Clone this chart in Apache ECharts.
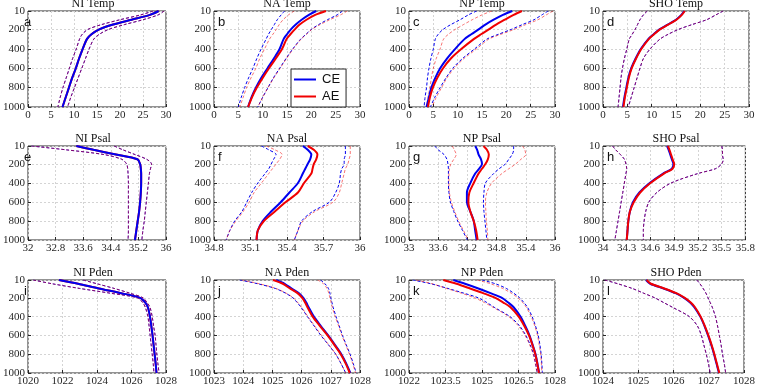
<!DOCTYPE html>
<html>
<head>
<meta charset="utf-8">
<script src="https://cdn.jsdelivr.net/npm/echarts@6/dist/echarts.min.js"></script>
<style>
  html, body { margin: 0; padding: 0; background: #fff; }
  #chart { width: 758px; height: 387px; }
</style>
</head>
<body>
<div id="chart"></div>
<script>
// depth levels (m) and tick labels
const depth = [10, 50, 100, 150, 200, 250, 300, 400, 500, 600, 700, 800, 900, 1000]
const depthTicks = [10, 200, 400, 600, 800, 1000]
const tempTicks = [0, 5, 10, 15, 20, 25, 30]
const niPsalTicks = [32, 32.8, 33.6, 34.4, 35.2, 36]
const naPsalTicks = [34.8, 35.1, 35.4, 35.7, 36]
const npPsalTicks = [33, 33.6, 34.2, 34.8, 35.4, 36]
const shoPsalTicks = [34, 34.3, 34.6, 34.9, 35.2, 35.5, 35.8]
const niPdenTicks = [1020, 1022, 1024, 1026, 1028]
const naPdenTicks = [1023, 1024, 1025, 1026, 1027, 1028]
const npPdenTicks = [1022, 1023.5, 1025, 1026.5, 1028]
const shoPdenTicks = [1024, 1025, 1026, 1027, 1028]

// NI Temp
const niTempCE = [28.4, 26.5, 22.5, 18.5, 15.5, 13.8, 12.8, 11.9, 11.1, 10.4, 9.6, 8.9, 8.2, 7.5]
const niTempCElo = [27.2, 24.5, 20.0, 16.0, 13.0, 11.8, 11.2, 10.5, 9.7, 9.0, 8.3, 7.6, 7.0, 6.5]
const niTempCEhi = [29.6, 28.3, 25.0, 21.0, 17.5, 15.5, 14.3, 13.3, 12.5, 11.7, 10.9, 10.1, 9.3, 8.6]
const niTempAE = [28.4, 26.5, 22.5, 18.5, 15.5, 13.8, 12.8, 11.9, 11.1, 10.4, 9.6, 8.9, 8.2, 7.5]
const niTempAElo = [27.2, 24.5, 20.0, 16.0, 13.0, 11.8, 11.2, 10.5, 9.7, 9.0, 8.3, 7.6, 7.0, 6.5]
const niTempAEhi = [29.6, 28.3, 25.0, 21.0, 17.5, 15.5, 14.3, 13.3, 12.5, 11.7, 10.9, 10.1, 9.3, 8.6]
// NA Temp
const naTempCE = [21.0, 19.5, 18.0, 16.8, 15.8, 15.0, 14.3, 13.5, 12.3, 11.0, 9.7, 8.6, 7.7, 7.0]
const naTempCElo = [14.5, 13.8, 13.0, 12.4, 11.8, 11.2, 10.7, 9.7, 8.8, 8.0, 7.1, 6.3, 5.6, 5.0]
const naTempCEhi = [26.4, 25.3, 23.3, 21.5, 20.0, 18.9, 17.8, 16.2, 14.8, 13.5, 12.2, 11.1, 10.0, 9.0]
const naTempAE = [23.0, 20.8, 19.0, 17.6, 16.6, 15.7, 14.9, 14.0, 12.7, 11.3, 10.0, 8.8, 7.8, 7.0]
const naTempAElo = [16.5, 15.3, 14.2, 13.4, 12.8, 12.1, 11.4, 10.4, 9.4, 8.6, 7.6, 6.7, 6.0, 5.3]
const naTempAEhi = [27.4, 26.0, 23.8, 21.8, 20.1, 19.0, 17.9, 16.3, 14.9, 13.6, 12.3, 11.1, 10.0, 9.0]
// NP Temp
const npTempCE = [21.2, 19.3, 17.4, 15.7, 14.3, 12.8, 11.4, 9.5, 7.8, 6.4, 5.4, 4.6, 4.1, 3.6]
const npTempCElo = [13.9, 12.2, 10.5, 8.6, 7.0, 6.0, 5.4, 5.0, 4.5, 4.1, 3.8, 3.6, 3.3, 3.1]
const npTempCEhi = [28.6, 27.3, 25.7, 23.3, 21.0, 18.4, 16.0, 13.5, 11.0, 9.0, 7.6, 6.4, 5.3, 4.4]
const npTempAE = [23.2, 21.5, 19.7, 17.9, 16.4, 14.8, 13.3, 10.8, 8.6, 7.0, 5.8, 4.9, 4.3, 3.9]
const npTempAElo = [17.0, 15.0, 13.0, 11.2, 9.5, 8.1, 7.1, 6.4, 5.6, 5.0, 4.6, 4.3, 3.9, 3.6]
const npTempAEhi = [29.6, 28.2, 26.5, 24.0, 21.6, 18.9, 16.4, 13.9, 11.3, 9.3, 7.8, 6.7, 5.6, 4.7]
// SHO Temp
const shoTempCE = [16.7, 16.1, 15.0, 13.3, 11.6, 10.4, 9.3, 7.8, 6.7, 5.8, 5.2, 4.8, 4.4, 4.1]
const shoTempCElo = [9.1, 8.3, 7.6, 7.1, 6.6, 6.0, 5.4, 4.9, 4.4, 4.0, 3.7, 3.5, 3.3, 3.1]
const shoTempCEhi = [24.7, 23.2, 21.3, 18.3, 15.5, 13.4, 11.7, 9.7, 8.3, 7.6, 7.0, 6.4, 5.8, 5.2]
const shoTempAE = [16.8, 16.2, 15.1, 13.4, 11.7, 10.5, 9.4, 7.9, 6.8, 5.9, 5.3, 4.9, 4.5, 4.2]
const shoTempAElo = [9.1, 8.3, 7.6, 7.1, 6.6, 6.0, 5.4, 4.9, 4.4, 4.0, 3.7, 3.5, 3.3, 3.1]
const shoTempAEhi = [24.7, 23.2, 21.3, 18.3, 15.5, 13.4, 11.7, 9.7, 8.3, 7.6, 7.0, 6.4, 5.8, 5.2]

// NI Psal
const niPsalCE = [33.4, 33.9, 34.55, 35.17, 35.25, 35.27, 35.28, 35.28, 35.27, 35.25, 35.22, 35.18, 35.14, 35.1]
const niPsalCElo = [32.1, 33.1, 34.2, 34.72, 34.86, 34.89, 34.9, 34.91, 34.91, 34.91, 34.91, 34.91, 34.91, 34.9]
const niPsalCEhi = [34.5, 34.75, 35.1, 35.44, 35.58, 35.55, 35.52, 35.49, 35.46, 35.43, 35.4, 35.37, 35.33, 35.3]
const niPsalAE = [33.4, 33.9, 34.55, 35.17, 35.25, 35.27, 35.28, 35.28, 35.27, 35.25, 35.22, 35.18, 35.14, 35.1]
const niPsalAElo = [32.1, 33.1, 34.2, 34.72, 34.86, 34.89, 34.9, 34.91, 34.91, 34.91, 34.91, 34.91, 34.91, 34.9]
const niPsalAEhi = [34.5, 34.75, 35.1, 35.44, 35.58, 35.55, 35.52, 35.49, 35.46, 35.43, 35.4, 35.37, 35.33, 35.3]
// NA Psal
const naPsalCE = [35.53, 35.57, 35.6, 35.59, 35.57, 35.55, 35.53, 35.49, 35.42, 35.35, 35.27, 35.2, 35.16, 35.15]
const naPsalCElo = [35.19, 35.25, 35.31, 35.29, 35.27, 35.25, 35.22, 35.16, 35.11, 35.07, 35.03, 34.97, 34.93, 34.9]
const naPsalCEhi = [35.88, 35.88, 35.88, 35.87, 35.87, 35.85, 35.84, 35.83, 35.8, 35.75, 35.61, 35.52, 35.49, 35.46]
const naPsalAE = [35.57, 35.62, 35.65, 35.64, 35.62, 35.61, 35.6, 35.54, 35.49, 35.39, 35.3, 35.21, 35.16, 35.15]
const naPsalAElo = [35.23, 35.3, 35.36, 35.34, 35.31, 35.28, 35.25, 35.19, 35.13, 35.09, 35.04, 34.98, 34.93, 34.9]
const naPsalAEhi = [35.92, 35.92, 35.92, 35.91, 35.9, 35.88, 35.87, 35.85, 35.83, 35.78, 35.63, 35.53, 35.49, 35.46]
// NP Psal
const npPsalCE = [34.36, 34.4, 34.43, 34.48, 34.5, 34.44, 34.36, 34.26, 34.19, 34.19, 34.26, 34.33, 34.36, 34.39]
const npPsalCElo = [33.53, 33.6, 33.72, 33.78, 33.8, 33.81, 33.81, 33.81, 33.82, 33.85, 33.92, 34.0, 34.1, 34.2]
const npPsalCEhi = [35.15, 35.15, 35.12, 35.05, 34.98, 34.85, 34.74, 34.57, 34.54, 34.53, 34.54, 34.56, 34.58, 34.6]
const npPsalAE = [34.53, 34.6, 34.64, 34.62, 34.57, 34.5, 34.43, 34.33, 34.24, 34.22, 34.26, 34.33, 34.38, 34.41]
const npPsalAElo = [33.89, 33.93, 33.97, 33.92, 33.86, 33.83, 33.82, 33.82, 33.83, 33.87, 33.94, 34.02, 34.12, 34.22]
const npPsalAEhi = [35.33, 35.38, 35.4, 35.3, 35.19, 35.05, 34.91, 34.7, 34.6, 34.57, 34.58, 34.59, 34.61, 34.62]
// SHO Psal
const shoPsalCE = [34.81, 34.83, 34.85, 34.87, 34.89, 34.87, 34.76, 34.59, 34.46, 34.38, 34.34, 34.32, 34.31, 34.3]
const shoPsalCElo = [34.12, 34.16, 34.22, 34.27, 34.29, 34.3, 34.29, 34.27, 34.25, 34.23, 34.21, 34.19, 34.17, 34.15]
const shoPsalCEhi = [35.5, 35.51, 35.51, 35.52, 35.5, 35.42, 35.2, 34.86, 34.68, 34.58, 34.54, 34.52, 34.51, 34.51]
const shoPsalAE = [34.82, 34.84, 34.86, 34.88, 34.9, 34.88, 34.77, 34.6, 34.47, 34.39, 34.34, 34.32, 34.31, 34.3]
const shoPsalAElo = [34.12, 34.16, 34.22, 34.27, 34.29, 34.3, 34.29, 34.27, 34.25, 34.23, 34.21, 34.19, 34.17, 34.15]
const shoPsalAEhi = [35.5, 35.51, 35.51, 35.52, 35.5, 35.42, 35.2, 34.86, 34.68, 34.58, 34.54, 34.52, 34.51, 34.51]

// NI Pden
const niPdenCE = [1021.8, 1022.9, 1024.1, 1025.4, 1026.5, 1026.8, 1026.95, 1027.07, 1027.15, 1027.22, 1027.28, 1027.34, 1027.4, 1027.45]
const niPdenCElo = [1020.3, 1021.4, 1023.0, 1024.75, 1026.35, 1026.65, 1026.8, 1026.95, 1027.02, 1027.08, 1027.14, 1027.2, 1027.26, 1027.3]
const niPdenCEhi = [1023.2, 1024.0, 1025.0, 1025.9, 1026.67, 1026.9, 1027.07, 1027.2, 1027.28, 1027.37, 1027.42, 1027.47, 1027.53, 1027.6]
const niPdenAE = [1021.8, 1022.9, 1024.1, 1025.4, 1026.5, 1026.8, 1026.95, 1027.07, 1027.15, 1027.22, 1027.28, 1027.34, 1027.4, 1027.45]
const niPdenAElo = [1020.3, 1021.4, 1023.0, 1024.75, 1026.35, 1026.65, 1026.8, 1026.95, 1027.02, 1027.08, 1027.14, 1027.2, 1027.26, 1027.3]
const niPdenAEhi = [1023.2, 1024.0, 1025.0, 1025.9, 1026.67, 1026.9, 1027.07, 1027.2, 1027.28, 1027.37, 1027.42, 1027.47, 1027.53, 1027.6]
// NA Pden
const naPdenCE = [1025.13, 1025.42, 1025.65, 1025.9, 1026.06, 1026.16, 1026.24, 1026.42, 1026.66, 1026.91, 1027.14, 1027.36, 1027.53, 1027.67]
const naPdenCElo = [1023.88, 1024.5, 1025.1, 1025.45, 1025.7, 1025.85, 1025.98, 1026.2, 1026.43, 1026.66, 1026.92, 1027.17, 1027.35, 1027.51]
const naPdenCEhi = [1026.65, 1026.8, 1026.92, 1026.97, 1027.0, 1027.04, 1027.08, 1027.18, 1027.29, 1027.4, 1027.53, 1027.66, 1027.77, 1027.87]
const naPdenAE = [1025.02, 1025.36, 1025.6, 1025.86, 1026.02, 1026.12, 1026.2, 1026.38, 1026.63, 1026.89, 1027.12, 1027.34, 1027.51, 1027.65]
const naPdenAElo = [1023.95, 1024.55, 1025.12, 1025.47, 1025.72, 1025.87, 1026.0, 1026.22, 1026.45, 1026.68, 1026.93, 1027.17, 1027.35, 1027.51]
const naPdenAEhi = [1026.55, 1026.75, 1026.87, 1026.93, 1026.97, 1027.01, 1027.05, 1027.15, 1027.27, 1027.38, 1027.51, 1027.64, 1027.75, 1027.85]
// NP Pden
const npPdenCE = [1023.82, 1024.3, 1024.85, 1025.35, 1025.82, 1026.08, 1026.3, 1026.58, 1026.78, 1026.95, 1027.08, 1027.2, 1027.28, 1027.35]
const npPdenCElo = [1022.15, 1022.9, 1023.6, 1024.25, 1024.85, 1025.2, 1025.5, 1026.15, 1026.55, 1026.8, 1026.98, 1027.12, 1027.2, 1027.27]
const npPdenCEhi = [1025.0, 1025.55, 1026.0, 1026.3, 1026.55, 1026.72, 1026.87, 1027.06, 1027.2, 1027.31, 1027.38, 1027.43, 1027.46, 1027.48]
const npPdenAE = [1023.41, 1023.95, 1024.51, 1025.05, 1025.55, 1025.88, 1026.17, 1026.51, 1026.74, 1026.93, 1027.07, 1027.19, 1027.27, 1027.34]
const npPdenAElo = [1022.3, 1022.95, 1023.55, 1024.15, 1024.7, 1025.1, 1025.45, 1026.1, 1026.5, 1026.77, 1026.96, 1027.1, 1027.19, 1027.26]
const npPdenAEhi = [1024.8, 1025.35, 1025.85, 1026.2, 1026.48, 1026.67, 1026.82, 1027.02, 1027.17, 1027.28, 1027.35, 1027.41, 1027.44, 1027.46]
// SHO Pden
const shoPdenCE = [1025.22, 1025.34, 1025.72, 1026.06, 1026.3, 1026.47, 1026.59, 1026.76, 1026.88, 1026.98, 1027.07, 1027.15, 1027.22, 1027.29]
const shoPdenCElo = [1024.05, 1024.42, 1024.83, 1025.15, 1025.47, 1025.72, 1025.97, 1026.45, 1026.68, 1026.79, 1026.86, 1026.93, 1026.99, 1027.04]
const shoPdenCEhi = [1026.66, 1026.75, 1026.84, 1026.92, 1026.98, 1027.04, 1027.1, 1027.19, 1027.25, 1027.3, 1027.35, 1027.39, 1027.44, 1027.48]
const shoPdenAE = [1025.24, 1025.36, 1025.74, 1026.08, 1026.32, 1026.49, 1026.61, 1026.77, 1026.89, 1026.99, 1027.08, 1027.16, 1027.23, 1027.3]
const shoPdenAElo = [1024.05, 1024.42, 1024.83, 1025.15, 1025.47, 1025.72, 1025.97, 1026.45, 1026.68, 1026.79, 1026.86, 1026.93, 1026.99, 1027.04]
const shoPdenAEhi = [1026.66, 1026.75, 1026.84, 1026.92, 1026.98, 1027.04, 1027.1, 1027.19, 1027.25, 1027.3, 1027.35, 1027.39, 1027.44, 1027.48]

const panels = [
    { title: 'NI Temp', letter: 'a', ticks: tempTicks, ce: [niTempCE, niTempCElo, niTempCEhi], ae: [niTempAE, niTempAElo, niTempAEhi], aeOnTop: false },
    { title: 'NA Temp', letter: 'b', ticks: tempTicks, ce: [naTempCE, naTempCElo, naTempCEhi], ae: [naTempAE, naTempAElo, naTempAEhi], aeOnTop: true },
    { title: 'NP Temp', letter: 'c', ticks: tempTicks, ce: [npTempCE, npTempCElo, npTempCEhi], ae: [npTempAE, npTempAElo, npTempAEhi], aeOnTop: true },
    { title: 'SHO Temp', letter: 'd', ticks: tempTicks, ce: [shoTempCE, shoTempCElo, shoTempCEhi], ae: [shoTempAE, shoTempAElo, shoTempAEhi], aeOnTop: true },
    { title: 'NI Psal', letter: 'e', ticks: niPsalTicks, ce: [niPsalCE, niPsalCElo, niPsalCEhi], ae: [niPsalAE, niPsalAElo, niPsalAEhi], aeOnTop: false },
    { title: 'NA Psal', letter: 'f', ticks: naPsalTicks, ce: [naPsalCE, naPsalCElo, naPsalCEhi], ae: [naPsalAE, naPsalAElo, naPsalAEhi], aeOnTop: true },
    { title: 'NP Psal', letter: 'g', ticks: npPsalTicks, ce: [npPsalCE, npPsalCElo, npPsalCEhi], ae: [npPsalAE, npPsalAElo, npPsalAEhi], aeOnTop: true },
    { title: 'SHO Psal', letter: 'h', ticks: shoPsalTicks, ce: [shoPsalCE, shoPsalCElo, shoPsalCEhi], ae: [shoPsalAE, shoPsalAElo, shoPsalAEhi], aeOnTop: true },
    { title: 'NI Pden', letter: 'i', ticks: niPdenTicks, ce: [niPdenCE, niPdenCElo, niPdenCEhi], ae: [niPdenAE, niPdenAElo, niPdenAEhi], aeOnTop: false },
    { title: 'NA Pden', letter: 'j', ticks: naPdenTicks, ce: [naPdenCE, naPdenCElo, naPdenCEhi], ae: [naPdenAE, naPdenAElo, naPdenAEhi], aeOnTop: true },
    { title: 'NP Pden', letter: 'k', ticks: npPdenTicks, ce: [npPdenCE, npPdenCElo, npPdenCEhi], ae: [npPdenAE, npPdenAElo, npPdenAEhi], aeOnTop: true },
    { title: 'SHO Pden', letter: 'l', ticks: shoPdenTicks, ce: [shoPdenCE, shoPdenCElo, shoPdenCEhi], ae: [shoPdenAE, shoPdenAElo, shoPdenAEhi], aeOnTop: true }
]

// layout of the 4x3 panel grid (px)
const colLeft = [20, 214, 409, 603]
const rowTop = [11, 146, 280]
const rowHeight = [96, 94, 96]
const plotWidth = 146

const BLUE = '#0000f0'
const RED = '#f00000'
const serif = '"Liberation Serif", "Times New Roman", serif'
const sans = '"Liberation Sans", Arial, sans-serif'

function pairs(vals) {
    return vals.map((v, i) => [v, depth[i]])
}

const grids = []
const xAxes = []
const yAxes = []
const series = []
const graphics = []

panels.forEach((p, k) => {
    const row = Math.floor(k / 4)
    const col = k % 4
    const left = colLeft[col]
    const top = rowTop[row]
    const h = rowHeight[row]

    grids.push({
        left: left, top: top, width: plotWidth, height: h,
        show: true, borderColor: '#262626', borderWidth: 1, backgroundColor: '#fff'
    })
    xAxes.push({
        type: 'value', gridIndex: k,
        min: p.ticks[0], max: p.ticks[p.ticks.length - 1],
        axisLine: { show: false, onZero: false },
        axisTick: { show: true, inside: true, length: 3, customValues: p.ticks, lineStyle: { color: '#262626' } },
        axisLabel: {
            customValues: p.ticks, color: '#262626', fontFamily: serif, fontSize: 11, margin: 3,
            formatter: v => String(v)
        },
        splitLine: { show: true, lineStyle: { color: '#d4d4d4', type: [2, 2], width: 1 } }
    })
    yAxes.push({
        type: 'value', gridIndex: k, inverse: true,
        min: 10, max: 1000,
        axisLine: { show: false, onZero: false },
        axisTick: { show: true, inside: true, length: 3, customValues: depthTicks, lineStyle: { color: '#262626' } },
        axisLabel: {
            customValues: depthTicks, color: '#262626', fontFamily: serif, fontSize: 11, margin: 3,
            formatter: v => String(v)
        },
        splitLine: { show: true, lineStyle: { color: '#d4d4d4', type: [2, 2], width: 1 } }
    })

    const dashed = (vals, color, opacity) => ({
        type: 'line', xAxisIndex: k, yAxisIndex: k, data: pairs(vals),
        showSymbol: false, symbol: 'none', smooth: 0.3, silent: true,
        lineStyle: { color: color, width: 1, type: [3, 2], opacity: opacity }
    })
    series.push(dashed(p.ce[1], BLUE, 1), dashed(p.ce[2], BLUE, 1))
    series.push(dashed(p.ae[1], RED, 0.55), dashed(p.ae[2], RED, 0.55))

    const mean = (vals, color, name) => ({
        type: 'line', name: name, xAxisIndex: k, yAxisIndex: k, data: pairs(vals),
        showSymbol: false, symbol: 'none', smooth: 0.3, silent: true,
        itemStyle: { color: color },
        lineStyle: { color: color, width: 2 }
    })
    const ceName = k === 1 ? 'CE' : 'ce' + k
    const aeName = k === 1 ? 'AE' : 'ae' + k
    if (p.aeOnTop) {
        series.push(mean(p.ce[0], BLUE, ceName), mean(p.ae[0], RED, aeName))
    } else {
        series.push(mean(p.ae[0], RED, aeName), mean(p.ce[0], BLUE, ceName))
    }

    graphics.push({
        type: 'text', x: left + plotWidth / 2, y: top - 7, silent: true,
        style: { text: p.title, fill: '#111', font: '12px ' + serif, align: 'center', verticalAlign: 'middle' }
    })
    graphics.push({
        type: 'text', x: left + 4, y: top + 11, silent: true,
        style: { text: p.letter, fill: '#111', font: '13px ' + sans, align: 'left', verticalAlign: 'middle' }
    })
})

const chart = echarts.init(document.getElementById('chart'), null, { renderer: 'canvas' })
chart.setOption({
    animation: false,
    backgroundColor: '#fff',
    grid: grids,
    xAxis: xAxes,
    yAxis: yAxes,
    legend: {
        data: ['CE', 'AE'],
        left: 291, top: 69,
        orient: 'vertical',
        icon: 'rect',
        itemWidth: 22, itemHeight: 2,
        itemGap: 4,
        padding: [4, 6, 4, 3],
        backgroundColor: '#fff',
        borderColor: '#262626', borderWidth: 1, borderRadius: 0,
        textStyle: { fontFamily: sans, fontSize: 13, color: '#111', padding: [0, 0, 0, 1] },
        selectedMode: false
    },
    graphic: graphics,
    series: series
})
</script>
</body>
</html>
